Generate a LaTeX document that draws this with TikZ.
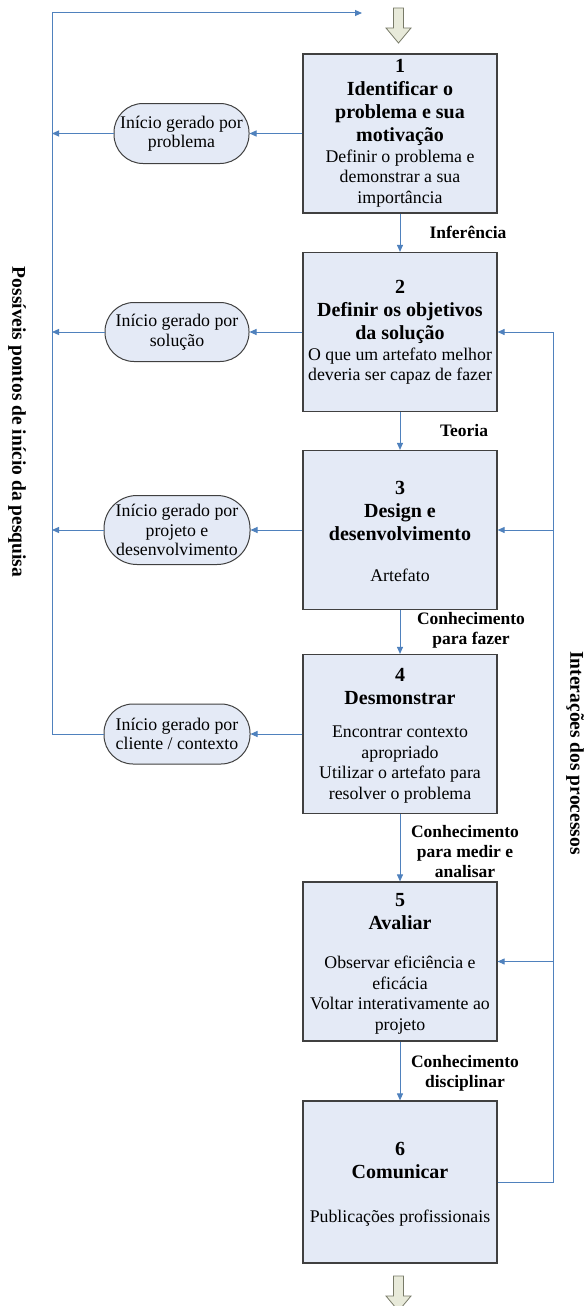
\documentclass[tikz,border=0pt]{standalone}
\usepackage{fontspec}
\setmainfont{Liberation Serif}
\usetikzlibrary{arrows.meta}
\definecolor{connblue}{RGB}{79,129,189}
\definecolor{boxfill}{RGB}{228,234,246}
\definecolor{boxline}{RGB}{64,64,64}
\definecolor{bigfill}{RGB}{232,234,218}
\definecolor{bigline}{RGB}{120,122,104}
\begin{document}
\begin{tikzpicture}[x=1pt,y=-1pt,
  connector/.style={draw=connblue, line width=1pt},
  arr/.style={connector, -{Triangle[length=7pt,width=6pt]}},
  stepbox/.style={draw=boxline, fill=boxfill, line width=1.2pt, minimum width=194pt, minimum height=159pt, inner sep=0},
  startbox/.style={draw=boxline, fill=boxfill, line width=1pt, inner sep=0, align=center, font=\fontsize{17.8}{19.5}\selectfont},
  ttl/.style={font=\fontsize{20}{23}\selectfont\bfseries, align=center, inner sep=0},
  dsc/.style={font=\fontsize{17.8}{20.5}\selectfont, align=center, inner sep=0},
  lbl/.style={font=\fontsize{17.5}{20}\selectfont\bfseries, align=center, inner sep=0},
  side/.style={font=\fontsize{19.5}{22}\selectfont\bfseries, inner sep=0, rotate=-90},
  bigarrow/.style={draw=bigline, fill=bigfill, line width=0.8pt, line join=miter}
]
\clip (0,0) rectangle (588,1306);
\fill[white] (0,0) rectangle (588,1306);

% step boxes
\node[stepbox] (b1) at (400,133.5) {};
\node[stepbox] (b2) at (400,332) {};
\node[stepbox] (b3) at (400,530) {};
\node[stepbox] (b4) at (400,734) {};
\node[stepbox] (b5) at (400,961.5) {};
\node[stepbox, minimum height=162pt] (b6) at (400,1182) {};

% box texts
\node[ttl] (b1t) at (400,102.5) {1\\Identificar o\\problema e sua\\motivação};
\node[dsc] (b1d) at (400,178.5) {Definir o problema e\\demonstrar a sua\\importância};
\node[ttl] (b2t) at (400,311.5) {2\\Definir os objetivos\\da solução};
\node[dsc] (b2d) at (400,366) {O que um artefato melhor\\deveria ser capaz de fazer};
\node[ttl] (b3t) at (400,510.5) {3\\Design e\\desenvolvimento};
\node[dsc] (b3d) at (400,575) {Artefato};
\node[ttl] (b4t) at (400,687) {4\\Desmonstrar};
\node[dsc] (b4d) at (400,764.5) {Encontrar contexto\\apropriado\\Utilizar o artefato para\\resolver o problema};
\node[ttl] (b5t) at (400,911.5) {5\\Avaliar};
\node[dsc] (b5d) at (400,995) {Observar eficiência e\\eficácia\\Voltar interativamente ao\\projeto};
\node[ttl] (b6t) at (400,1160) {6\\Comunicar};
\node[dsc] (b6d) at (400,1218) {Publicações profissionais};

% start nodes
\node[startbox, minimum width=135pt, minimum height=60pt, rounded corners=29pt] (e1) at (181.5,133.5) {Início gerado por\\problema};
\node[startbox, minimum width=144pt, minimum height=59pt, rounded corners=29pt] (e2) at (177,332) {Início gerado por\\solução};
\node[startbox, minimum width=146pt, minimum height=69pt, rounded corners=33pt] (e3) at (177,530) {Início gerado por\\projeto e\\desenvolvimento};
\node[startbox, minimum width=146pt, minimum height=60pt, rounded corners=29pt] (e4) at (177,734) {Início gerado por\\cliente / contexto};

% coordinates of the side lines
\coordinate (L) at (52,0);
\coordinate (R) at (553,0);
\coordinate (topT) at (362,13);

% boxes to start nodes
\draw[arr] (b1.west) -- (e1.east);
\draw[arr] (b2.west) -- (e2.east);
\draw[arr] (b3.west) -- (e3.east);
\draw[arr] (b4.west) -- (e4.east);

% start nodes to left line
\draw[arr] (e1.west) -- (e1.west -| L);
\draw[arr] (e2.west) -- (e2.west -| L);
\draw[arr] (e3.west) -- (e3.west -| L);
\draw[arr] (e4.west) -- (e4.west -| L) |- (topT);

% main flow
\draw[arr] (b1.south) -- (b2.north);
\draw[arr] (b2.south) -- (b3.north);
\draw[arr] (b3.south) -- (b4.north);
\draw[arr] (b4.south) -- (b5.north);
\draw[arr] (b5.south) -- (b6.north);

% iteration line on the right
\draw[arr] (b6.east) -- (b6.east -| R) |- (b2.east);
\draw[arr] (b3.east -| R) -- (b3.east);
\draw[arr] (b5.east -| R) -- (b5.east);

% flow labels
\node[lbl] (l1) at (468,232) {Inferência};
\node[lbl] (l2) at (464,431) {Teoria};
\node[lbl] (l3) at (471,630) {Conhecimento\\para fazer};
\node[lbl] (l4) at (465,852) {Conhecimento\\para medir e\\analisar};
\node[lbl] (l5) at (465,1073) {Conhecimento\\disciplinar};

% side labels
\node[side] (sl) at (17,422) {Possíveis pontos de início da pesquisa};
\node[side] (sr) at (575,753) {Interações dos processos};

% big hollow arrows (entry and exit)
\draw[bigarrow] (393.5,8) -- (403.5,8) -- (403.5,28) -- (411,28) -- (398.5,43) -- (386,28) -- (393.5,28) -- cycle;
\draw[bigarrow] (393.5,1276) -- (403.5,1276) -- (403.5,1296) -- (411,1296) -- (398.5,1311) -- (386,1296) -- (393.5,1296) -- cycle;
\end{tikzpicture}
\end{document}
